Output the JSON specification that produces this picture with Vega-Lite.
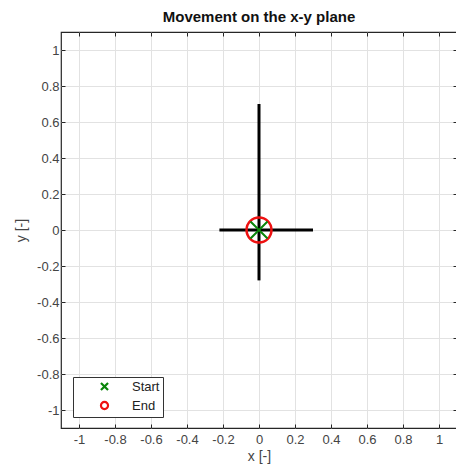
{
  "$schema": "https://vega.github.io/schema/vega-lite/v6.json",
  "width": 396,
  "height": 396,
  "autosize": {"type": "none"},
  "padding": {"left": 61, "top": 32, "right": 0, "bottom": 44},
  "background": "white",
  "title": {"text": "Movement on the x-y plane", "font": "Liberation Sans", "fontSize": 15, "fontWeight": "bold", "color": "#111111", "offset": 7, "anchor": "middle"},
  "config": {
    "view": {"stroke": "#262626", "strokeWidth": 1.2},
    "axis": {
      "labelFont": "Liberation Sans", "labelFontSize": 13, "labelColor": "#444444",
      "titleFont": "Liberation Sans", "titleFontSize": 14, "titleColor": "#444444", "titleFontWeight": "normal",
      "domainColor": "#262626", "tickColor": "#262626", "tickSize": -4,
      "gridColor": "#e2e2e2", "gridWidth": 1
    },
    "legend": {"title": null, "orient": "none", "legendX": 12, "legendY": 345, "strokeColor": "#333333", "fillColor": "white", "padding": 3, "symbolOffset": 22, "labelOffset": 21, "rowPadding": 2, "symbolSize": 50, "symbolStrokeWidth": 2.2, "symbolOpacity": 1, "labelFont": "Liberation Sans", "labelFontSize": 13, "labelColor": "#222222"}
  },
  "datasets": {
    "path": [
      {"seg": "vertical", "x": 0, "y": -0.28},
      {"seg": "vertical", "x": 0, "y": 0.7},
      {"seg": "horizontal", "x": -0.22, "y": 0},
      {"seg": "horizontal", "x": 0.3, "y": 0}
    ],
    "marks": [
      {"label": "Start", "x": 0, "y": 0},
      {"label": "End", "x": 0, "y": 0}
    ]
  },
  "resolve": {"axis": {"x": "independent", "y": "independent"}},
  "layer": [
    {
      "data": {"name": "path"},
      "mark": {"type": "line", "color": "black", "strokeWidth": 3, "strokeCap": "butt"},
      "encoding": {
        "x": {"field": "x", "type": "quantitative", "scale": {"domain": [-1.1, 1.1], "nice": false, "zero": false},
          "axis": {"title": "x [-]", "values": [-1, -0.8, -0.6, -0.4, -0.2, 0, 0.2, 0.4, 0.6, 0.8, 1], "labelExpr": "'' + datum.value", "labelPadding": 9, "titlePadding": 3, "domain": false}},
        "y": {"field": "y", "type": "quantitative", "scale": {"domain": [-1.1, 1.1], "nice": false, "zero": false},
          "axis": {"title": "y [-]", "values": [-1, -0.8, -0.6, -0.4, -0.2, 0, 0.2, 0.4, 0.6, 0.8, 1], "labelExpr": "'' + datum.value", "labelPadding": 6, "titlePadding": 8, "domain": false}},
        "detail": {"field": "seg"}
      }
    },
    {
      "data": {"name": "path"},
      "mark": {"type": "point", "opacity": 0},
      "encoding": {
        "x": {"field": "x", "type": "quantitative", "axis": {"orient": "top", "title": null, "labels": false, "grid": false, "domain": false, "values": [-1, -0.8, -0.6, -0.4, -0.2, 0, 0.2, 0.4, 0.6, 0.8, 1]}},
        "y": {"field": "y", "type": "quantitative", "axis": {"orient": "right", "title": null, "labels": false, "grid": false, "domain": false, "values": [-1, -0.8, -0.6, -0.4, -0.2, 0, 0.2, 0.4, 0.6, 0.8, 1]}}
      }
    },
    {
      "data": {"name": "marks"},
      "transform": [{"filter": "datum.label == 'End'"}],
      "mark": {"type": "point", "filled": false, "size": 620, "strokeWidth": 2.5, "opacity": 1},
      "encoding": {
        "x": {"field": "x", "type": "quantitative", "axis": null},
        "y": {"field": "y", "type": "quantitative", "axis": null},
        "color": {"field": "label", "type": "nominal", "scale": {"domain": ["Start", "End"], "range": ["#0a850a", "#ee1111"]}},
        "shape": {"field": "label", "type": "nominal", "scale": {"domain": ["Start", "End"], "range": ["M-1,-1L1,1M1,-1L-1,1", "circle"]}}
      }
    },
    {
      "data": {"name": "marks"},
      "transform": [{"filter": "datum.label == 'Start'"}],
      "mark": {"type": "point", "filled": false, "size": 290, "strokeWidth": 2, "opacity": 1},
      "encoding": {
        "x": {"field": "x", "type": "quantitative", "axis": null},
        "y": {"field": "y", "type": "quantitative", "axis": null},
        "color": {"field": "label", "type": "nominal", "scale": {"domain": ["Start", "End"], "range": ["#0a850a", "#ee1111"]}},
        "shape": {"field": "label", "type": "nominal", "scale": {"domain": ["Start", "End"], "range": ["M-1,-1L1,1M1,-1L-1,1", "circle"]}}
      }
    }
  ]
}
